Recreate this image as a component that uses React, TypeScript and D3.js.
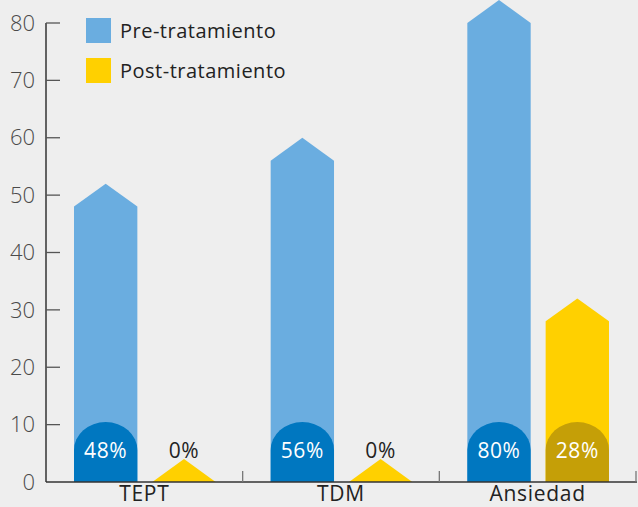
import React from "react";
import * as d3 from "d3";

const categories = ["TEPT", "TDM", "Ansiedad"];
const series = ["Pre-tratamiento", "Post-tratamiento"];
const preValues = [48, 56, 80];
const postValues = [0, 0, 28];
const yTicks = [0, 10, 20, 30, 40, 50, 60, 70, 80];

const W = 638;
const H = 507;
const FONT = "'Open Sans', 'DejaVu Sans', sans-serif";

const barColors = ["#6aade0", "#ffd000"];
const badgeColors = ["#0077c0", "#c59f07"];

export default function App() {
  const y = d3.scaleLinear().domain([0, 80]).range([482, 23]);
  const x0 = d3.scaleBand<string>().domain(categories).range([46, 636]).padding(0);
  const bw = x0.bandwidth();
  const x1 = d3
    .scaleBand<string>()
    .domain(series)
    .range([28, bw - 27])
    .paddingInner(0.191)
    .paddingOuter(0);
  const w = x1.bandwidth();
  const tip = 4;
  const badgeTop = 10.45;
  const ry = 28;

  const barPath = (xa: number, v: number) => {
    const xb = xa + w;
    const xc = xa + w / 2;
    const p = d3.path();
    p.moveTo(xa, y(0));
    p.lineTo(xa, y(v));
    p.lineTo(xc, y(v + tip));
    p.lineTo(xb, y(v));
    p.lineTo(xb, y(0));
    p.closePath();
    return p.toString();
  };

  const badgePath = (xa: number) => {
    const xb = xa + w;
    const top = y(badgeTop);
    const side = top + ry;
    return `M${xa},${y(0)} L${xa},${side} A${w / 2},${ry} 0 0 1 ${xb},${side} L${xb},${y(0)} Z`;
  };

  const data = [preValues, postValues];

  return (
    <svg
      width={W}
      height={H}
      style={{ position: "absolute", left: 0, top: 0, background: "#eeeeee" }}
    >
      <rect x={0} y={0} width={W} height={H} fill="#eeeeee" />
      {/* bars */}
      {categories.map((c, ci) =>
        series.map((s, si) => {
          const xa = (x0(c) as number) + (x1(s) as number);
          const v = data[si][ci];
          return (
            <g key={c + s}>
              <path d={barPath(xa, v)} fill={barColors[si]} />
              {v > 0 && <path d={badgePath(xa)} fill={badgeColors[si]} />}
              <text
                x={xa + w / 2}
                y={458}
                textAnchor="middle"
                fontFamily={FONT}
                fontSize={21}
                letterSpacing={0.6}
                fill={v > 0 ? "#ffffff" : "#222222"}
              >
                {v + "%"}
              </text>
            </g>
          );
        })
      )}
      {/* y axis */}
      <line x1={46} x2={46} y1={y(80)} y2={y(0)} stroke="#333" strokeWidth={1.5} />
      {yTicks.map((t) => (
        <g key={t}>
          {t > 0 && (
            <line x1={46} x2={60} y1={y(t)} y2={y(t)} stroke="#555" strokeWidth={1.3} />
          )}
          <text
            x={35}
            y={y(t)}
            dy="0.35em"
            textAnchor="end"
            fontFamily={FONT}
            fontWeight={300}
            fontSize={22}
            fill="#4a4a4a"
          >
            {t}
          </text>
        </g>
      ))}
      {/* x axis */}
      <line x1={46} x2={637} y1={y(0)} y2={y(0)} stroke="#333" strokeWidth={1.5} />
      {categories.map((c) => (
        <g key={c}>
          <line
            x1={(x0(c) as number) + bw}
            x2={(x0(c) as number) + bw}
            y1={y(0)}
            y2={y(0) - 11}
            stroke="#777"
            strokeWidth={1.3}
          />
          <text
            x={(x0(c) as number) + bw / 2}
            y={501}
            textAnchor="middle"
            fontFamily={FONT}
            fontSize={21}
            letterSpacing={0.7}
            fill="#222"
          >
            {c}
          </text>
        </g>
      ))}
      {/* legend */}
      {series.map((s, si) => (
        <g key={s}>
          <rect x={86} y={18 + si * 40} width={25} height={25} fill={barColors[si]} />
          <text
            x={120}
            y={38 + si * 40}
            fontFamily={FONT}
            fontSize={20}
            letterSpacing={0.5}
            fill="#222"
          >
            {s}
          </text>
        </g>
      ))}
    </svg>
  );
}
